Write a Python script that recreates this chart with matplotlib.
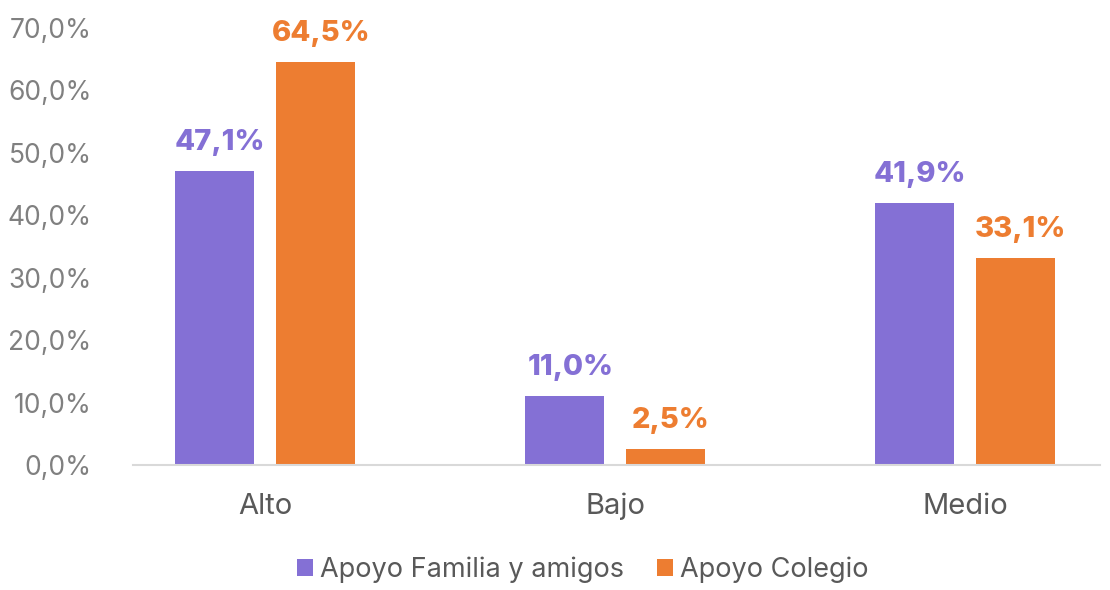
import matplotlib.pyplot as plt, numpy as np
from matplotlib.ticker import FuncFormatter

plt.rcParams['font.family'] = ['Inter', 'DejaVu Sans']

categories = ['Alto', 'Bajo', 'Medio']
familia = [47.1, 11.0, 41.9]
colegio = [64.5, 2.5, 33.1]
series_names = ['Apoyo Familia y amigos', 'Apoyo Colegio']
colors = ['#8470d5', '#ed7d31']

fig = plt.figure(figsize=(11.1, 5.9), dpi=100)
ax = fig.add_axes([0.12, 0.212, 0.871, 0.7405])

x = np.arange(len(categories))
w = 0.226
off = 0.144
for vals, dx, c, name in zip([familia, colegio], [-off, off], colors, series_names):
    bars = ax.bar(x + dx, vals, w, color=c, label=name)
    for b, v in zip(bars, vals):
        ax.annotate(('%.1f%%' % v).replace('.', ','),
                    (b.get_x() + b.get_width() / 2, v),
                    xytext=(4, 11), textcoords='offset points',
                    ha='center', va='bottom', color=c,
                    fontsize=21, fontweight='heavy')

ax.set_ylim(0, 70)
ax.set_xlim(-0.377, 2.386)
ax.set_yticks(np.arange(0, 71, 10))
ax.yaxis.set_major_formatter(FuncFormatter(lambda v, p: ('%.1f%%' % v).replace('.', ',')))
ax.set_xticks(x)
ax.set_xticklabels(categories)
ax.tick_params(axis='y', length=0, labelsize=19, labelcolor='#808080', pad=30)
ax.tick_params(axis='x', length=0, labelsize=21, labelcolor='#595959', pad=20)
for s in ['top', 'right', 'left']:
    ax.spines[s].set_visible(False)
ax.spines['bottom'].set_color('#d9d9d9')
ax.spines['bottom'].set_linewidth(1.5)

fig.legend(loc='lower center', bbox_to_anchor=(0.525, -0.03), ncol=2, frameon=False,
           fontsize=19.5, labelcolor='#595959', handlelength=0.6, handleheight=0.6,
           handletextpad=0.25, columnspacing=1.2)

fig.savefig('out.png', dpi=100)
